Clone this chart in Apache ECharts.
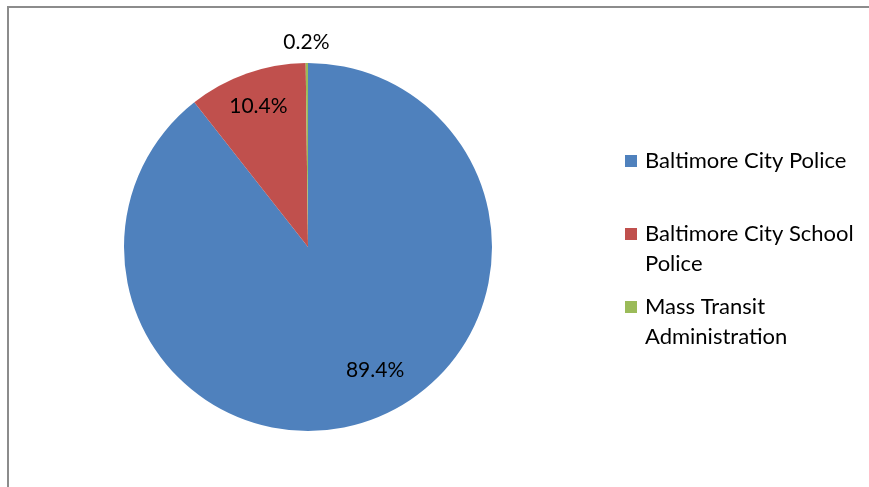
<!DOCTYPE html>
<html>
<head>
<meta charset="utf-8">
<script src="https://cdn.jsdelivr.net/npm/echarts@6/dist/echarts.min.js"></script>
<style>
  html, body { margin: 0; padding: 0; background: #fff; }
  #chart { width: 869px; height: 487px; }
</style>
</head>
<body>
<div id="chart"></div>
<script>
// agencies and their share of the total (%)
var agencies = ['Baltimore City Police', 'Baltimore City School Police', 'Mass Transit Administration'];
var legendLines = ['Baltimore City Police', 'Baltimore City School', 'Mass Transit'];
var shares = [89.4, 10.4, 0.2];
var colors = ['#4F81BD', '#C0504D', '#9BBB59'];

// nudge labels to where Excel's "best fit" put them
var labelShift = [[36, 33], [-18, -51], [-1, -110]];

var FONT = 'Lato, "Open Sans", sans-serif';

var chart = echarts.init(document.getElementById('chart'));

var pieData = agencies.map(function (name, i) {
    return { name: name, value: shares[i], itemStyle: { color: colors[i] } };
});

chart.setOption({
    animation: false,
    backgroundColor: '#fff',
    graphic: [
        {
            type: 'rect',
            shape: { x: 8, y: 7, width: 900, height: 520 },
            style: { fill: 'none', stroke: '#8c8c8c', lineWidth: 2 }
        },
        {
            type: 'text',
            left: 645, top: 253,
            style: { text: 'Police', fontSize: 22, fontFamily: FONT, fill: '#000' }
        },
        {
            type: 'text',
            left: 645, top: 326,
            style: { text: 'Administration', fontSize: 22, fontFamily: FONT, fill: '#000' }
        }
    ],
    legend: {
        orient: 'vertical',
        left: 620,
        top: 145,
        icon: 'rect',
        itemWidth: 12,
        itemHeight: 12,
        itemGap: 51,
        selectedMode: false,
        data: agencies,
        formatter: function (name) {
            return legendLines[agencies.indexOf(name)];
        },
        textStyle: { fontSize: 22, fontFamily: FONT, color: '#000', lineHeight: 22, padding: [0, 0, 0, 3] }
    },
    series: [{
        type: 'pie',
        center: [308, 247],
        radius: [0, 184],
        startAngle: 90,
        clockwise: true,
        percentPrecision: 1,
        label: {
            position: 'inside',
            formatter: '{d}%',
            fontSize: 21,
            fontFamily: FONT,
            color: '#000'
        },
        labelLine: { show: false },
        labelLayout: function (params) {
            var s = labelShift[params.dataIndex];
            return { dx: s[0], dy: s[1] };
        },
        emphasis: { disabled: true },
        data: pieData
    }]
});
</script>
</body>
</html>
